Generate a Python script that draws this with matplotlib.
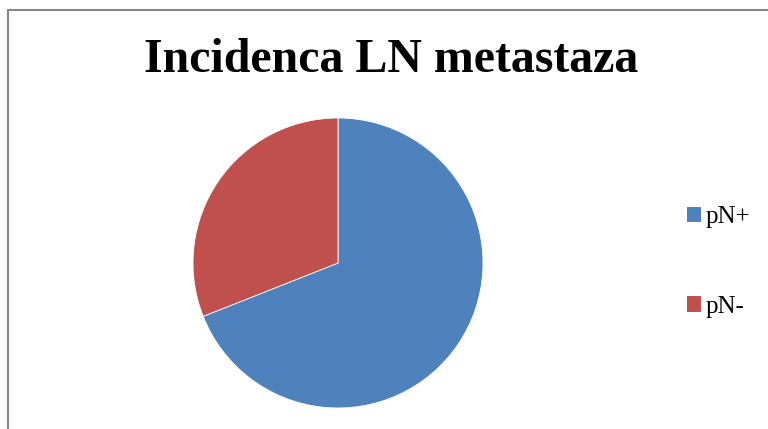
import matplotlib
matplotlib.use("Agg")
import matplotlib.pyplot as plt
from matplotlib.patches import Rectangle, Patch

categories = ["pN+", "pN-"]
values = [69, 31]
colors = ["#4F81BD", "#C0504D"]
title = "Incidenca LN metastaza"

W, H = 768, 429
fig = plt.figure(figsize=(W/100, H/100), dpi=100)

# chart border
fig.patches.append(Rectangle((8/W, -0.1), 1.2, (H-10)/H + 0.1, transform=fig.transFigure,
                             fill=False, edgecolor="#878787", linewidth=1.5))

ax = fig.add_axes([193/W, (H-408)/H, 290/W, 290/H])
ax.pie(values, colors=colors, startangle=90, counterclock=False,
       wedgeprops=dict(linewidth=0.6, edgecolor="white"))
ax.set_xlim(-1, 1)
ax.set_ylim(-1, 1)
ax.set_aspect("equal")
ax.axis("off")

fig.text(391/W, 1 - 60/H, title, ha="center", va="center",
         fontfamily="Liberation Serif", fontweight="bold", fontsize=34.5)

handles = [Patch(facecolor=c, edgecolor="none") for c in colors]
fig.legend(handles, categories, loc="center left", bbox_to_anchor=(687/W, 1 - 262/H),
           frameon=False, prop=dict(family="Liberation Serif", size=18),
           labelspacing=2.7, handlelength=0.56, handleheight=0.56, handletextpad=0.2,
           borderpad=0, borderaxespad=0)

fig.savefig("out.png", dpi=100)
